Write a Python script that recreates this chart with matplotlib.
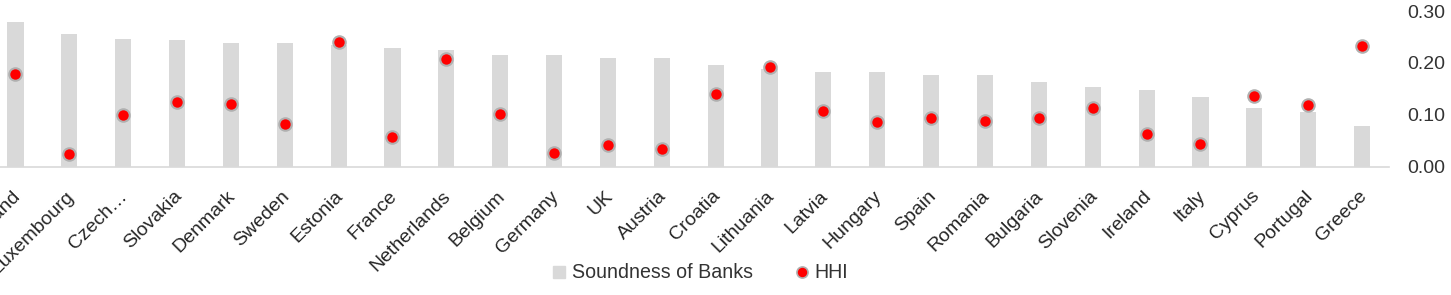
import matplotlib
matplotlib.use("Agg")
import matplotlib.pyplot as plt
import matplotlib.transforms as mtransforms
from matplotlib.lines import Line2D
import numpy as np

plt.rcParams['font.family'] = ['Liberation Sans', 'DejaVu Sans']

countries = ["Finland", "Luxembourg", "Czech…", "Slovakia", "Denmark", "Sweden",
             "Estonia", "France", "Netherlands", "Belgium", "Germany", "UK",
             "Austria", "Croatia", "Lithuania", "Latvia", "Hungary", "Spain",
             "Romania", "Bulgaria", "Slovenia", "Ireland", "Italy", "Cyprus",
             "Portugal", "Greece"]
soundness = [0.278, 0.255, 0.246, 0.244, 0.238, 0.238, 0.235, 0.229, 0.224,
             0.215, 0.215, 0.209, 0.209, 0.195, 0.188, 0.183, 0.183, 0.177,
             0.177, 0.163, 0.154, 0.148, 0.134, 0.114, 0.105, 0.079]
hhi = [0.179, 0.025, 0.100, 0.125, 0.121, 0.083, 0.240, 0.057, 0.208, 0.101,
       0.026, 0.042, 0.035, 0.141, 0.193, 0.107, 0.087, 0.094, 0.089, 0.093,
       0.114, 0.063, 0.044, 0.136, 0.118, 0.232]
yticks = [0.00, 0.10, 0.20, 0.30]

W, H = 1451, 295
fig = plt.figure(figsize=(W / 100, H / 100), dpi=100)
left_px, right_px = -11.5, 1389
bottom_px, top_px = 166.7, 11
ax = fig.add_axes([left_px / W, 1 - bottom_px / H,
                   (right_px - left_px) / W, (bottom_px - top_px) / H])

x = np.arange(len(countries))
ax.bar(x, soundness, width=0.3, color='#d9d9d9', zorder=1)
ax.plot(x, hhi, linestyle='none', marker='o', markersize=9,
        markerfacecolor='#ff0000', markeredgecolor='#b0b0b0', markeredgewidth=1.5,
        zorder=3)

ax.set_xlim(-0.5, len(countries) - 0.5)
ax.set_ylim(0, 0.30)
ax.yaxis.tick_right()
ax.set_yticks(yticks)
ax.set_yticklabels([f"{v:.2f}" for v in yticks])
ax.tick_params(axis='y', length=0, pad=13, labelsize=14, labelcolor='#333333')
ax.set_xticks(x)
ax.set_xticklabels(countries, rotation=45, ha='right', rotation_mode='anchor')
ax.tick_params(axis='x', length=0, pad=15, labelsize=14, labelcolor='#262626')
offset = mtransforms.ScaledTranslation(-4 / 100, 0, fig.dpi_scale_trans)
for lab in ax.get_xticklabels():
    lab.set_transform(lab.get_transform() + offset)

for s in ['top', 'left', 'right']:
    ax.spines[s].set_visible(False)
ax.spines['bottom'].set_color('#d9d9d9')
ax.spines['bottom'].set_linewidth(1.2)

handles = [
    Line2D([], [], linestyle='none', marker='s', markersize=8,
           markerfacecolor='#d9d9d9', markeredgecolor='#d9d9d9'),
    Line2D([], [], linestyle='none', marker='o', markersize=8,
           markerfacecolor='#ff0000', markeredgecolor='#b0b0b0', markeredgewidth=1.2),
]
leg = fig.legend(handles, ['Soundness of Banks', 'HHI'], loc='center',
                 bbox_to_anchor=(701 / W, 1 - 273 / H), ncol=2,
                 frameon=False, fontsize=14.1, handlelength=0.6, handletextpad=0.35,
                 columnspacing=2.2)
for t in leg.get_texts():
    t.set_color('#333333')

fig.savefig("out.png", dpi=100)
